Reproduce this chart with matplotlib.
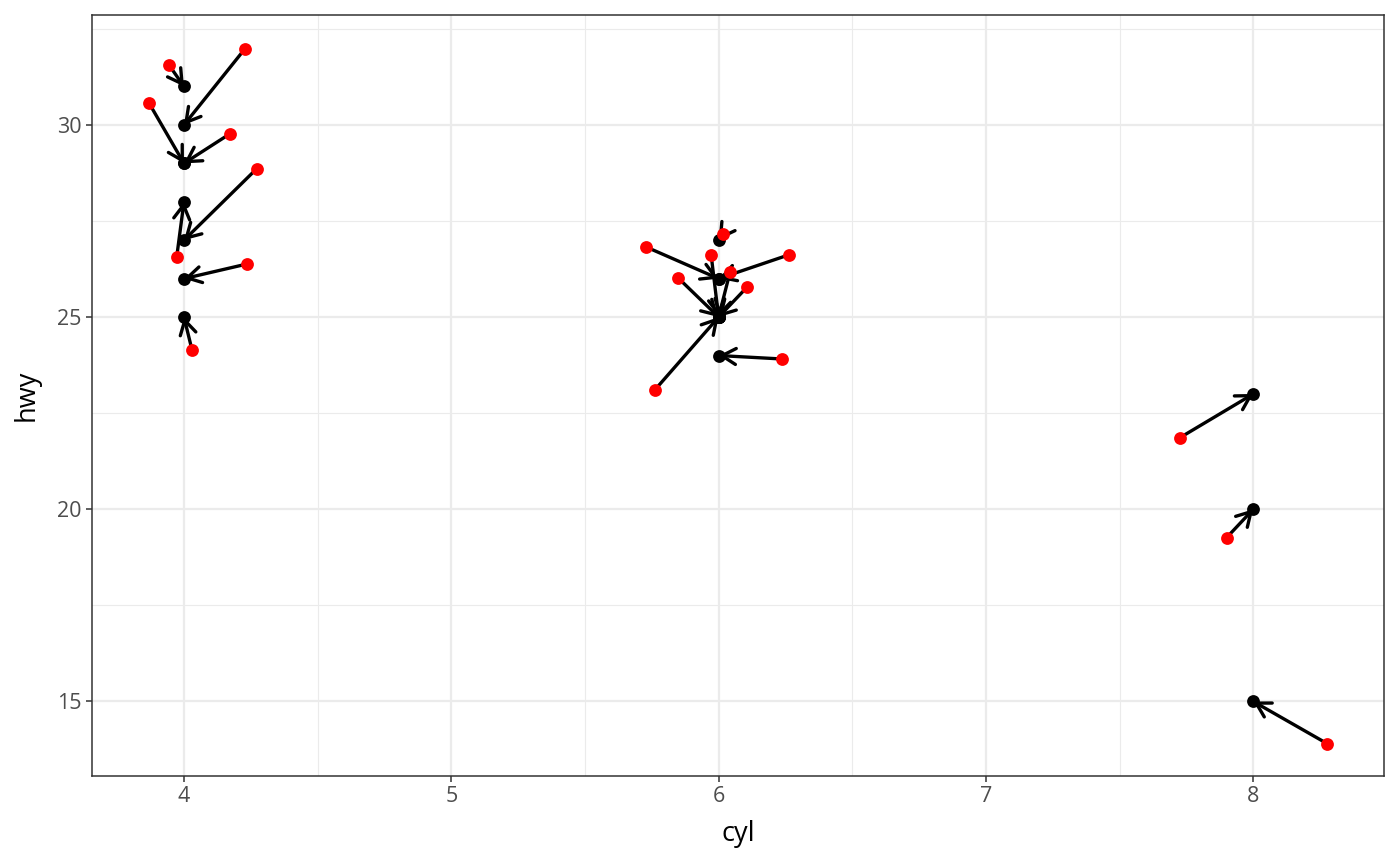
import numpy as np
import matplotlib.pyplot as plt

plt.rcParams['font.family'] = ['Open Sans', 'DejaVu Sans']

# original (black) positions
cyl = [4, 4, 4, 4, 4, 4, 4, 4,
       6, 6, 6, 6, 6, 6, 6, 6, 6,
       8, 8, 8]
hwy = [31, 30, 29, 29, 27, 28, 26, 25,
       26, 25, 25, 27, 25, 26, 25, 25, 24,
       23, 20, 15]

# jittered (red) positions
cyl_j = [3.944, 4.228, 3.870, 4.172, 4.272, 3.973, 4.235, 4.030,
         5.727, 5.847, 5.972, 6.016, 6.043, 6.263, 6.105, 5.762, 6.237,
         7.725, 7.900, 8.277]
hwy_j = [31.56, 31.98, 30.56, 29.77, 28.86, 26.57, 26.38, 24.15,
         26.83, 26.03, 26.62, 27.16, 26.18, 26.62, 25.77, 23.11, 23.91,
         21.86, 19.26, 13.90]

fig = plt.figure(figsize=(14, 8.66), dpi=100)
ax = fig.add_axes([92/1400, 1 - 776/866, (1384-92)/1400, (776-15)/866])

for x0, y0, x1, y1 in zip(cyl_j, hwy_j, cyl, hwy):
    ax.annotate('', xy=(x1, y1), xytext=(x0, y0),
                arrowprops=dict(arrowstyle='->,head_length=0.4,head_width=0.23',
                                mutation_scale=25, lw=2.4, color='black',
                                shrinkA=0, shrinkB=0), zorder=3)

ax.scatter(cyl, hwy, s=85, color='black', zorder=4, linewidths=0)
ax.scatter(cyl_j, hwy_j, s=85, color='red', zorder=5, linewidths=0)

ax.set_xlim(3.656, 8.489)
ax.set_ylim(13.06, 32.86)
ax.set_xticks([4, 5, 6, 7, 8])
ax.set_yticks([15, 20, 25, 30])
ax.set_xticks([4.5, 5.5, 6.5, 7.5], minor=True)
ax.set_yticks([17.5, 22.5, 27.5, 32.5], minor=True)
ax.grid(True, which='major', color='#EBEBEB', lw=1.6, zorder=0)
ax.grid(True, which='minor', color='#EBEBEB', lw=0.8, zorder=0)
ax.set_axisbelow(True)
ax.tick_params(which='minor', length=0)
ax.tick_params(which='major', length=4.5, width=1.1, color='#333333',
               labelsize=15.5, labelcolor='#4D4D4D', pad=3)
for s in ax.spines.values():
    s.set_color('#333333')
    s.set_linewidth(1.1)

ax.set_xlabel('cyl', fontsize=19.5, labelpad=9)
ax.set_ylabel('hwy', fontsize=19.5, labelpad=12)

fig.savefig('out.png', dpi=100)
